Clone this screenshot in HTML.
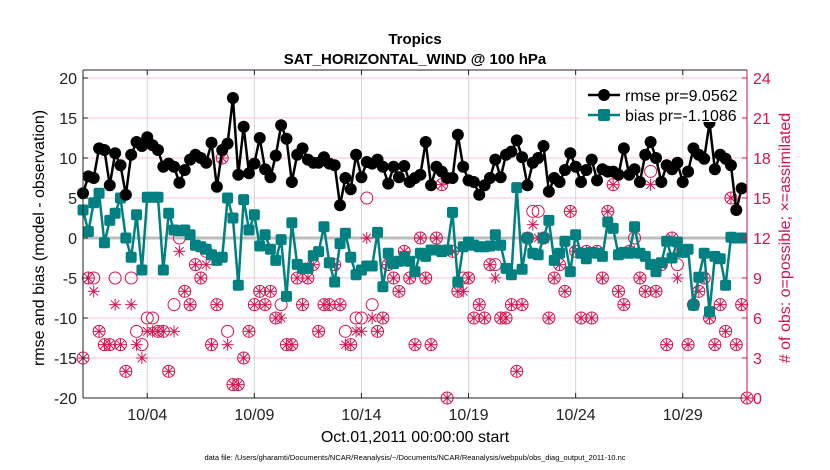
<!DOCTYPE html>
<html><head><meta charset="utf-8"><style>
html,body{margin:0;padding:0;background:#fff;}
svg{display:block;font-family:"Liberation Sans",sans-serif;}
</style></head><body>
<svg id="chart" width="830" height="470" viewBox="0 0 830 470" xmlns="http://www.w3.org/2000/svg">
<text x="415" y="44" text-anchor="middle" font-size="15" font-weight="bold">Tropics</text>
<text x="415" y="64" text-anchor="middle" font-size="15" font-weight="bold">SAT_HORIZONTAL_WIND @ 100 hPa</text>
<g id="grid"></g>
<g id="obs"></g>
<g id="series"></g>
<g id="axes"></g>
<g>
<rect x="580" y="80" width="162" height="42" fill="#fff"/>
<line x1="588" y1="95" x2="620" y2="95" stroke="#000" stroke-width="2.5"/>
<circle cx="604" cy="95" r="6" fill="#000"/>
<text x="625" y="101" font-size="16">rmse pr=9.0562</text>
<line x1="588" y1="115" x2="620" y2="115" stroke="#008080" stroke-width="2.5"/>
<rect x="598" y="109" width="12" height="12" rx="2" fill="#008080"/>
<text x="625" y="121" font-size="16">bias pr=-1.1086</text>
</g>
<text transform="translate(44,238) rotate(-90)" text-anchor="middle" font-size="16">rmse and bias (model - observation)</text>
<text transform="translate(790,238) rotate(-90)" text-anchor="middle" font-size="16" fill="#d6124f">#  of obs: o=possible; ×=assimilated</text>
<text x="415" y="442" text-anchor="middle" font-size="16">Oct.01,2011 00:00:00 start</text>
<text x="415" y="460" text-anchor="middle" font-size="7.5">data file: /Users/gharamti/Documents/NCAR/Reanalysis/~/Documents/NCAR/Reanalysis/webpub/obs_diag_output_2011-10.nc</text>
</svg>
<script>
const rmse=[5.6,7.7,7.5,11.2,11,6.6,10.6,9.1,5.4,10.4,12,11.5,12.6,11.6,11,8.9,9.3,8.9,6.9,8.5,9.8,10.4,10,9.4,11.9,6.4,11,11.8,17.5,7.9,13.9,
8.1,9.3,12.5,8.6,7.6,10.3,14.1,12.4,7,10.4,11.2,9.8,9.4,9.4,10.1,9.3,9.1,4.1,7.5,6.1,10.4,7.6,9.5,9.3,9.8,8.9,6.8,8.9,7.6,9.0,7.0,
7.5,7.9,12,6.6,8.9,8.3,7.5,7.5,12.9,8.9,7.2,7,5.4,6.6,7.5,9.8,7.6,10.4,10.8,12.2,10.1,6.6,9.4,10,11.5,5.8,7.5,7,8.5,10.6,8.9,
7,8.5,9.8,7.2,8.6,8.3,8.3,7.9,11.2,7.9,8.6,7,10.4,12,10,7,9.1,8.6,9.4,7,8.3,11.2,10.4,9.9,14.4,8.6,10.4,9.9,9.1,3.5,6.2];
const bias=[3.5,0.8,4.4,5.6,-0.6,2.2,3.1,5,0,-2.4,2.9,-4,5.1,5.1,5.1,-4,3.1,1,0.9,1,0.4,-0.9,-1.1,-1.4,-2.1,-2.8,-2.4,5,2.5,-5.9,4.8,1,
2.9,-1,0.4,-1.4,-2.8,-0.2,-7.3,1.9,-3.3,-3.8,-3.8,-2.2,-1.7,1.4,-3.1,-5.5,-0.7,0.6,-2.4,-4.6,-4,-3.5,-3.5,0.7,-6.1,-1.9,-3.2,-2.9,-2.4,-2.9,
-4.2,-1.9,-2.3,-1.5,-1.5,-1.7,-1.5,3.2,-5.5,-1.1,-0.5,-0.9,-1.1,-1.1,-1,0.4,-0.9,-3.8,-4.6,6.3,-3.9,0,-1.9,-2.1,0,2.2,-2.8,-1.9,-0.4,-4.2,0.4,
-1.9,-2.6,-1.8,-1.9,-2.3,2,1.2,-2.1,-1.8,-1.9,1.4,-1.9,-2.3,-3.3,-4.2,-3.1,-0.4,-2.5,-0.5,-1.8,-1.4,-8.4,-4.9,-1.9,-9.2,-2.3,-2.6,-5.9,0.1,0,0];
const possible=[3,9,9,5,4,4,9,4,2,9,5,4,6,6,5,5,2,7,12,8,7,10,9,11,4,7,18,5,1,1,3,5,7,8,7,8,6,7,4,4,9,7,9,10,5,7,7,10,7,5,4,6,6,15,7,5,6,10,9,8,11,9,4,12,9,4,12,16,0,11,8,9,9,6,7,6,10,10,6,6,7,2,7,12,14,14,12,6,9,10,8,14,11,6,11,6,11,9,14,16,8,7,11,12,9,8,17,8,10,4,12,10,11,4,7,8,9,6,4,7,5,15,4,7,0];
const assimilated=[3,9,8,5,4,4,7,4,2,7,4,3,5,5,5,5,2,5,11,8,7,10,9,10,4,7,18,4,1,1,3,5,7,8,7,8,6,6,4,4,9,7,9,10,5,7,7,10,7,4,4,5,5,12,6,5,6,10,9,8,11,9,4,12,9,4,12,16,0,11,8,8,9,6,7,6,10,9,6,6,7,2,7,12,13,12,12,6,9,10,8,14,11,6,11,6,11,9,14,16,8,7,11,11,9,8,16,8,10,4,12,9,11,4,7,8,9,6,4,7,5,15,4,7,0];
const dateTicks=[3,8,13,18,23,28];
const dateLabels=["10/04","10/09","10/14","10/19","10/24","10/29"];
const leftTicks=[20,15,10,5,0,-5,-10,-15,-20];
const rightTicks=[24,21,18,15,12,9,6,3,0];

const X0=83,X1=747,YT=70,YB=398;
const xDay=d=>X0+d*(X1-X0)/31;
const xIdx=i=>xDay(i/4);
const yL=v=>238-v*8;
const yR=v=>398-v*320/24;
const NS="http://www.w3.org/2000/svg";
function mk(tag,attrs,parent){const e=document.createElementNS(NS,tag);for(const k in attrs)e.setAttribute(k,attrs[k]);parent.appendChild(e);return e;}
const grid=document.getElementById('grid'),axes=document.getElementById('axes'),ser=document.getElementById('series'),obs=document.getElementById('obs');
const PINK="#d6124f";
// grid
leftTicks.forEach(v=>{const l=mk('line',{x1:X0,x2:X1,y1:yL(v),y2:yL(v),stroke:'#f7c6d8','stroke-width':1},grid);

});
dateTicks.forEach(d=>{const l=mk('line',{x1:xDay(d),x2:xDay(d),y1:YT,y2:YB,stroke:'#d6d6d6','stroke-width':1},grid);

});
const z=mk('line',{x1:X0,x2:X1,y1:yL(0),y2:yL(0),stroke:'#bdbdbd','stroke-width':3},grid);


// observation markers
function star(cx,cy,r,g){for(let k=0;k<4;k++){const a=k*Math.PI/4;mk('line',{x1:cx-r*Math.cos(a),y1:cy-r*Math.sin(a),x2:cx+r*Math.cos(a),y2:cy+r*Math.sin(a),stroke:PINK,'stroke-width':1},g);}}
possible.forEach((v,i)=>{const c=mk('circle',{cx:xIdx(i),cy:yR(v),r:6,fill:'none',stroke:PINK,'stroke-width':1},obs);

});
assimilated.forEach((v,i)=>{const g=mk('g',{},obs);


star(xIdx(i),yR(v),6,g);});
// bias
const bp=mk('polyline',{points:bias.map((v,i)=>xIdx(i)+','+yL(v)).join(' '),fill:'none',stroke:'#008080','stroke-width':2.5},ser);


bias.forEach((v,i)=>{const r=mk('rect',{x:xIdx(i)-5.5,y:yL(v)-5.5,width:11,height:11,rx:2,fill:'#008080'},ser);

});
// rmse
const rp=mk('polyline',{points:rmse.map((v,i)=>xIdx(i)+','+yL(v)).join(' '),fill:'none',stroke:'#000','stroke-width':2.5},ser);


rmse.forEach((v,i)=>{const c=mk('circle',{cx:xIdx(i),cy:yL(v),r:6,fill:'#000'},ser);

});
// axes
mk('line',{x1:X0,x2:X0,y1:YT,y2:YB,stroke:'#222','stroke-width':1},axes);
mk('line',{x1:X0,x2:X1,y1:YB,y2:YB,stroke:'#222','stroke-width':1},axes);
mk('line',{x1:X0,x2:X1,y1:YT,y2:YT,stroke:'#222','stroke-width':1},axes);
mk('line',{x1:X1,x2:X1,y1:YT,y2:YB,stroke:PINK,'stroke-width':1},axes);
leftTicks.forEach(v=>{mk('line',{x1:X0,x2:X0+5,y1:yL(v),y2:yL(v),stroke:'#222'},axes);
const t=mk('text',{x:X0-6,y:yL(v)+6,'text-anchor':'end','font-size':16,fill:'#222'},axes);t.textContent=v;

});
rightTicks.forEach(v=>{mk('line',{x1:X1-5,x2:X1,y1:yR(v),y2:yR(v),stroke:PINK},axes);
const t=mk('text',{x:X1+6,y:yR(v)+6,'font-size':16,fill:PINK},axes);t.textContent=v;

});
dateTicks.forEach((d,k)=>{mk('line',{x1:xDay(d),x2:xDay(d),y1:YB-5,y2:YB,stroke:'#222'},axes);mk('line',{x1:xDay(d),x2:xDay(d),y1:YT,y2:YT+5,stroke:'#222'},axes);
const t=mk('text',{x:xDay(d),y:YB+22,'text-anchor':'middle','font-size':16,fill:'#222'},axes);t.textContent=dateLabels[k];

});
</script>
</body></html>
